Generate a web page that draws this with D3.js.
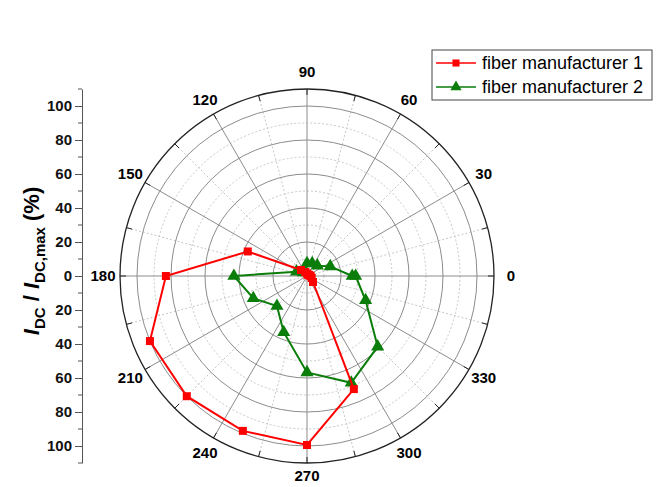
<!DOCTYPE html>
<html>
<head>
<meta charset="utf-8">
<script src="https://cdn.jsdelivr.net/npm/d3@7"></script>
<style>
  body { margin: 0; background: #fff; }
  svg { font-family: "Liberation Sans", Arial, sans-serif; }
</style>
</head>
<body>
<svg id="chart" width="656" height="487"></svg>
<script>
// angles in degrees (counter-clockwise from 0 at the right)
var angles = [0, 22.5, 45, 67.5, 90, 112.5, 135, 157.5, 180, 202.5, 225, 247.5, 270, 292.5, 315, 337.5, 360];
var fiber1 = [2, 1.5, 1, 1, 1.5, 2.5, 5, 37.7, 83, 100, 100, 98.6, 99.4, 72, 5, 3, 2];
var fiber2 = [26.6, 14.8, 8.6, 8, 7.5, 4, 3, 6.7, 43, 34.2, 25, 35.8, 56.7, 68, 58.8, 37.3, 28.6];
var seriesNames = ['fiber manufacturer 1', 'fiber manufacturer 2'];
var angleLabels = [0, 30, 60, 90, 120, 150, 180, 210, 240, 270, 300, 330];
var axisTicks = [-100, -80, -60, -40, -20, 0, 20, 40, 60, 80, 100];

var cx = 307, cy = 276;
var rMax = 110;

var svg = d3.select('#chart');

// radial scale
var r = d3.scaleLinear().domain([0, rMax]).range([0, 187]);

function px(deg, v) { return cx + r(v) * Math.cos(deg * Math.PI / 180); }
function py(deg, v) { return cy - r(v) * Math.sin(deg * Math.PI / 180); }

var grid = svg.append('g').attr('class', 'grid');

// dotted circles at odd tens
grid.selectAll('.minor-circle')
    .data(d3.range(10, 100, 20))
    .enter().append('circle')
    .attr('cx', cx).attr('cy', cy)
    .attr('r', function (d) { return r(d); })
    .attr('fill', 'none')
    .attr('stroke', '#c8c8c8')
    .attr('stroke-dasharray', '2,2');

// dotted spokes between major ones
grid.selectAll('.minor-spoke')
    .data(d3.range(15, 360, 30))
    .enter().append('line')
    .attr('x1', cx).attr('y1', cy)
    .attr('x2', function (d) { return px(d, rMax); })
    .attr('y2', function (d) { return py(d, rMax); })
    .attr('stroke', '#c8c8c8')
    .attr('stroke-dasharray', '2,2');

// solid circles
grid.selectAll('.major-circle')
    .data(d3.range(20, 101, 20))
    .enter().append('circle')
    .attr('cx', cx).attr('cy', cy)
    .attr('r', function (d) { return r(d); })
    .attr('fill', 'none')
    .attr('stroke', '#8c8c8c');

// solid spokes
grid.selectAll('.major-spoke')
    .data(d3.range(0, 360, 30))
    .enter().append('line')
    .attr('x1', cx).attr('y1', cy)
    .attr('x2', function (d) { return px(d, rMax); })
    .attr('y2', function (d) { return py(d, rMax); })
    .attr('stroke', '#8c8c8c');

// outer circle + inward ticks
grid.append('circle')
    .attr('cx', cx).attr('cy', cy).attr('r', r(rMax))
    .attr('fill', 'none')
    .attr('stroke', '#222')
    .attr('stroke-width', 1.3);

grid.selectAll('.outer-tick')
    .data(d3.range(0, 360, 15))
    .enter().append('line')
    .attr('x1', function (d) { return px(d, rMax); })
    .attr('y1', function (d) { return py(d, rMax); })
    .attr('x2', function (d) { return px(d, rMax - 3.5); })
    .attr('y2', function (d) { return py(d, rMax - 3.5); })
    .attr('stroke', '#222');

// angle labels
svg.append('g').selectAll('text')
    .data(angleLabels)
    .enter().append('text')
    .attr('x', function (d) { return cx + 204 * Math.cos(d * Math.PI / 180); })
    .attr('y', function (d) { return cy - (d === 270 ? 200 : 204) * Math.sin(d * Math.PI / 180); })
    .attr('dy', '0.35em')
    .attr('text-anchor', 'middle')
    .style('font-size', '15px')
    .style('font-weight', 'bold')
    .text(function (d) { return d; });

// series
var radial = d3.lineRadial()
    .angle(function (d) { return (90 - d[0]) * Math.PI / 180; })
    .radius(function (d) { return r(d[1]); });

function drawSeries(values, color, symbol, size) {
    var data = angles.map(function (a, i) { return [a, values[i]]; });
    var g = svg.append('g').attr('transform', 'translate(' + cx + ',' + cy + ')');
    g.append('path')
        .datum(data)
        .attr('d', radial)
        .attr('fill', 'none')
        .attr('stroke', color)
        .attr('stroke-width', 2);
    g.selectAll('.pt')
        .data(data)
        .enter().append('path')
        .attr('transform', function (d) {
            return 'translate(' + (px(d[0], d[1]) - cx) + ',' + (py(d[0], d[1]) - cy) + ')';
        })
        .attr('d', d3.symbol().type(symbol).size(size))
        .attr('fill', color);
}

drawSeries(fiber2, '#0a7d0a', d3.symbolTriangle, 75);
drawSeries(fiber1, '#ff0000', d3.symbolSquare, 64);

// left linear axis
var y = d3.scaleLinear().domain([-rMax, rMax]).range([cy + r(rMax), cy - r(rMax)]);

var axisG = svg.append('g')
    .attr('transform', 'translate(82,0)')
    .call(d3.axisLeft(y)
        .tickValues(axisTicks)
        .tickSize(7)
        .tickSizeOuter(0)
        .tickFormat(function (d) { return Math.abs(d); }));

axisG.select('.domain').attr('stroke', '#555');
axisG.selectAll('.tick line').attr('stroke', '#555');
axisG.selectAll('.tick text')
    .style('font-size', '15px')
    .style('font-weight', 'bold')
    .style('font-family', '"Liberation Sans", Arial, sans-serif')
    .attr('fill', '#111');

// minor ticks
axisG.selectAll('.minor')
    .data(d3.range(-110, 111, 10).filter(function (d) { return d % 20 !== 0; }))
    .enter().append('line')
    .attr('x1', 0).attr('x2', -4)
    .attr('y1', function (d) { return y(d); })
    .attr('y2', function (d) { return y(d); })
    .attr('stroke', '#555');

// axis title
var title = svg.append('text')
    .attr('transform', 'translate(39,261) rotate(-90)')
    .attr('text-anchor', 'middle')
    .style('font-size', '22px')
    .style('font-weight', 'bold');
title.append('tspan').style('font-style', 'italic').text('I');
title.append('tspan').attr('dy', 6).style('font-size', '15px').text('DC');
title.append('tspan').attr('dy', -6).text(' / ');
title.append('tspan').style('font-style', 'italic').text('I');
title.append('tspan').attr('dy', 6).style('font-size', '15px').text('DC,max');
title.append('tspan').attr('dy', -6).text('  (%)');

// legend
var legend = svg.append('g').attr('transform', 'translate(432,50)');
legend.append('rect')
    .attr('width', 220).attr('height', 50)
    .attr('fill', '#fff')
    .attr('stroke', '#444');

var legendItems = [
    { name: seriesNames[0], color: '#ff0000', symbol: d3.symbolSquare, size: 50 },
    { name: seriesNames[1], color: '#0a7d0a', symbol: d3.symbolTriangle, size: 55 }
];

var item = legend.selectAll('.item')
    .data(legendItems)
    .enter().append('g')
    .attr('transform', function (d, i) { return 'translate(0,' + (13 + i * 24) + ')'; });

item.append('line')
    .attr('x1', 4).attr('x2', 44)
    .attr('stroke', function (d) { return d.color; })
    .attr('stroke-width', 1.5);
item.append('path')
    .attr('transform', 'translate(24,0)')
    .attr('d', function (d) { return d3.symbol().type(d.symbol).size(d.size)(); })
    .attr('fill', function (d) { return d.color; });
item.append('text')
    .attr('x', 50)
    .attr('dy', '0.35em')
    .style('font-size', '18px')
    .text(function (d) { return d.name; });
</script>
</body>
</html>
